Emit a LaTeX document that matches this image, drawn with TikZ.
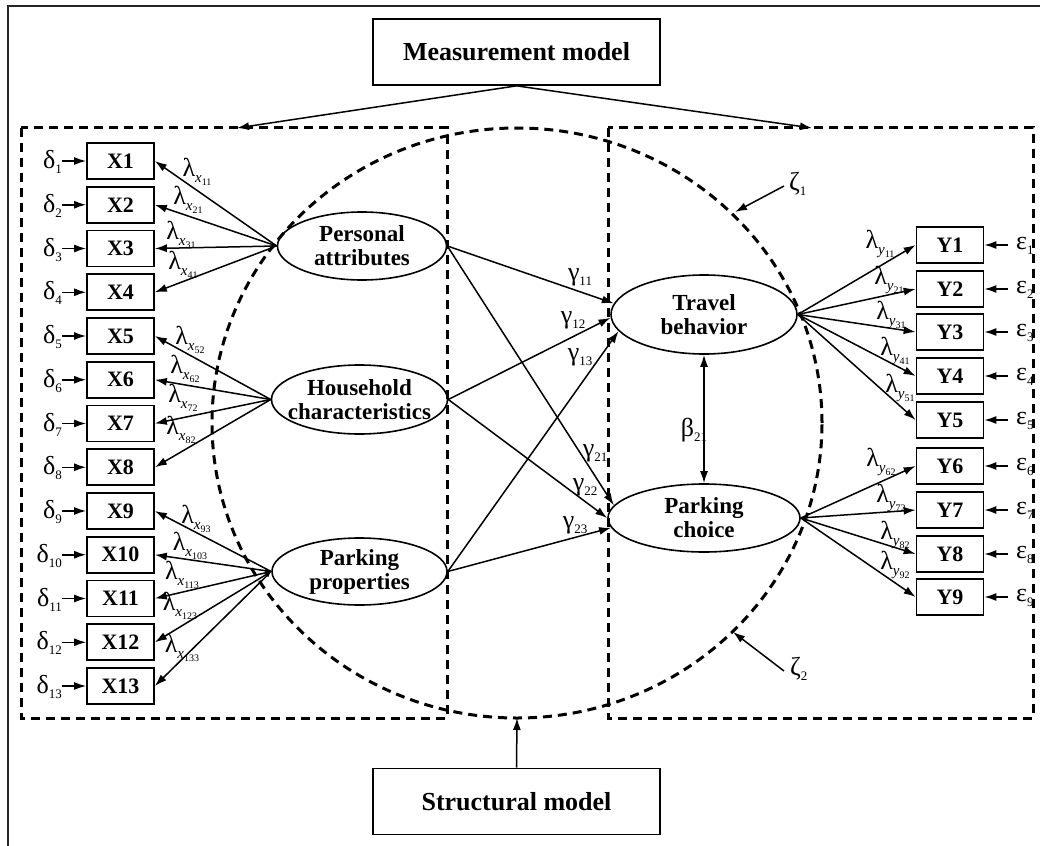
\documentclass[tikz,border=0pt]{standalone}
\usepackage{fontspec}
\setmainfont{Liberation Serif}
\usetikzlibrary{shapes.geometric,arrows.meta}
\newcommand{\gsub}[2]{#1\raisebox{-5pt}{\fontsize{13}{13}\selectfont #2}}
\newcommand{\lsub}[3]{λ\raisebox{-6pt}{\fontsize{15}{15}\selectfont\textit{#1}\raisebox{-3pt}{\fontsize{10}{10}\selectfont #2#3}}}
\begin{document}
\begin{tikzpicture}[x=1pt,y=-1pt,
  box/.style={draw, line width=1.7pt, minimum width=67pt, minimum height=36pt, inner sep=0pt, font=\fontsize{22}{22}\selectfont\bfseries},
  lat/.style={draw, ellipse, line width=1.6pt, inner sep=0pt},
  lattext/.style={align=center, inner sep=0pt, font=\fontsize{23}{24}\selectfont\bfseries},
  big/.style={draw, line width=1.7pt, minimum width=287pt, minimum height=66pt, font=\fontsize{26}{26}\selectfont\bfseries},
  dline/.style={line width=3pt, dash pattern=on 9pt off 6pt},
  arr/.style={line width=1.5pt, -{Latex[length=12pt,width=8pt]}},
  darr/.style={line width=1.5pt, {Latex[length=6pt,width=4pt]}-{Latex[length=12pt,width=8pt]}},
  lab/.style={font=\fontsize{26}{26}\selectfont, inner sep=0pt},
  lamb/.style={font=\fontsize{26}{26}\selectfont, inner sep=0pt}
]
\path[use as bounding box] (0,0) rectangle (1040,845);
% outer frame
\draw[line width=2.2pt, black!85] (8,850) -- (8,6) -- (1045,6);
% dashed regions
\draw[dline] (21,128) rectangle (447,718);
\draw[dline] (608,128) rectangle (1033,718);
\draw[dline] (517,423) ellipse [x radius=305pt, y radius=295pt];
% model boxes
\node[big] (mm) at (516.5,52) {Measurement model};
\node[big] (sm) at (516.5,801.5) {Structural model};
\coordinate (ml) at (237,128);
\coordinate (mr) at (812,128);
\coordinate (st) at (517,718);
\draw[arr] (mm.south) -- (ml);
\draw[arr] (mm.south) -- (mr);
\draw[arr] (sm.north) -- (st);
% X boxes
\foreach \i in {1,...,13} {
  \node[box] (X\i) at (120.5,{161+(\i-1)*43.75}) {X\i};
  \node[lab, anchor=east] (d\i) at (62,{162+(\i-1)*43.75}) {\gsub{δ}{\i}};
  \draw[arr] (d\i.east |- X\i.west) -- (X\i.west);
}
% Y boxes
\foreach \i/\y in {1/245,2/289,3/332,4/376,5/420,6/466,7/510,8/554,9/597} {
  \node[box] (Y\i) at (950,\y) {Y\i};
  \node[lab, anchor=west] (e\i) at (1016,\y+1) {\gsub{ε}{\i}};
  \draw[arr] ([xshift=-8pt]e\i.west |- Y\i.east) -- (Y\i.east);
}
% latent variables
\node[lat, minimum width=169pt, minimum height=68pt] (pa) at (362,246) {};
\node[lattext] at (pa) {Personal\\attributes};
\node[lat, minimum width=176pt, minimum height=69pt] (hc) at (359.5,399.5) {};
\node[lattext] at (hc) {Household\\characteristics};
\node[lat, minimum width=175pt, minimum height=67pt] (pp) at (359.5,571.5) {};
\node[lattext] at (pp) {Parking\\properties};
\node[lat, minimum width=186pt, minimum height=79pt] (tb) at (704,314.5) {};
\node[lattext] at (tb) {Travel\\behavior};
\node[lat, minimum width=192pt, minimum height=68pt] (pc) at (704,518) {};
\node[lattext] at (pc) {Parking\\choice};
% loadings x
\foreach \i in {1,2,3} \draw[arr] (pa.west) -- (X\i.east);
\draw[darr] (pa.west) -- (X4.east);
\foreach \i in {5,6,7,8} \draw[arr] (hc.west) -- (X\i.east);
\foreach \i in {9,11} \draw[arr] (pp.west) -- (X\i.east);
\foreach \i in {10,12,13} \draw[darr] (pp.west) -- (X\i.east);
% loadings y
\foreach \i in {1,...,5} \draw[arr] (tb.east) -- (Y\i.west);
\foreach \i in {6,...,9} \draw[arr] (pc.east) -- (Y\i.west);
% structural paths
\draw[arr] (pa.east) -- (tb.173);
\draw[arr] (hc.east) -- (tb.182);
\draw[arr] (pp.east) -- (tb.191);
\draw[arr] (pa.east) -- (pc.172);
\draw[arr] (hc.east) -- (pc.180);
\draw[arr] (pp.east) -- (pc.186);
\draw[line width=1.5pt, {Latex[length=12pt,width=8pt]}-{Latex[length=12pt,width=8pt]}] (tb.south) -- (pc.north);
% disturbances
\node[lab, anchor=west] (z1) at (789,184) {\gsub{ζ}{1}};
\coordinate (z1t) at (735,212);
\draw[arr] ([xshift=-5pt,yshift=-2pt]z1.west) -- (z1t);
\node[lab, anchor=west] (z2) at (790,669) {\gsub{ζ}{2}};
\coordinate (z2t) at (733,632);
\draw[arr] ([xshift=-6pt,yshift=-2pt]z2.west) -- (z2t);
% gamma / beta labels
\node[lab] (g11) at (580,277) {\gsub{γ}{11}};
\node[lab] (g12) at (573,320) {\gsub{γ}{12}};
\node[lab] (g13) at (580,357) {\gsub{γ}{13}};
\node[lab] (g21) at (595,453) {\gsub{γ}{21}};
\node[lab] (g22) at (585,487) {\gsub{γ}{22}};
\node[lab] (g23) at (575,525) {\gsub{γ}{23}};
\node[lab] (b21) at (694,430) {\gsub{β}{21}};
% lambda x labels
\node[lamb] (lx1) at (197,172) {\lsub{x}{1}{1}};
\node[lamb] (lx2) at (188,200) {\lsub{x}{2}{1}};
\node[lamb] (lx3) at (181,235) {\lsub{x}{3}{1}};
\node[lamb] (lx4) at (183,265) {\lsub{x}{4}{1}};
\node[lamb] (lx5) at (190,340) {\lsub{x}{5}{2}};
\node[lamb] (lx6) at (185,369) {\lsub{x}{6}{2}};
\node[lamb] (lx7) at (183,398) {\lsub{x}{7}{2}};
\node[lamb] (lx8) at (181,430) {\lsub{x}{8}{2}};
\node[lamb] (lx9) at (196,519) {\lsub{x}{9}{3}};
\node[lamb] (lx10) at (190,546) {\lsub{x}{10}{3}};
\node[lamb] (lx11) at (182,575) {\lsub{x}{11}{3}};
\node[lamb] (lx12) at (180,606) {\lsub{x}{12}{3}};
\node[lamb] (lx13) at (182,648) {\lsub{x}{13}{3}};
% lambda y labels
\node[lamb] (ly1) at (880,244) {\lsub{y}{1}{1}};
\node[lamb] (ly2) at (889,280) {\lsub{y}{2}{1}};
\node[lamb] (ly3) at (891,315) {\lsub{y}{3}{1}};
\node[lamb] (ly4) at (895,351) {\lsub{y}{4}{1}};
\node[lamb] (ly5) at (900,388) {\lsub{y}{5}{1}};
\node[lamb] (ly6) at (881,462) {\lsub{y}{6}{2}};
\node[lamb] (ly7) at (891,498) {\lsub{y}{7}{2}};
\node[lamb] (ly8) at (895,535) {\lsub{y}{8}{2}};
\node[lamb] (ly9) at (895,565) {\lsub{y}{9}{2}};
\end{tikzpicture}
\end{document}
